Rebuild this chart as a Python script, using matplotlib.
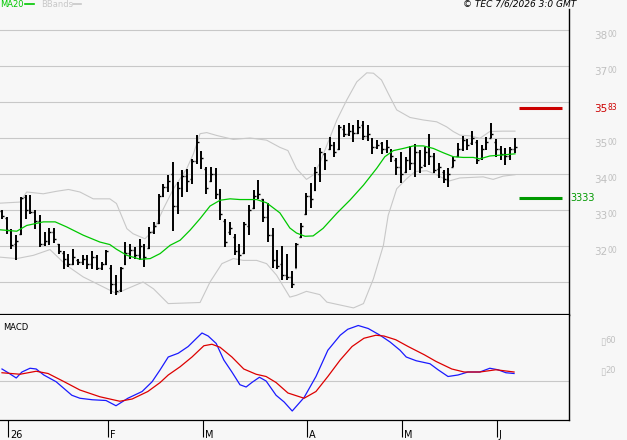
import matplotlib
matplotlib.use('Agg')
import matplotlib.pyplot as plt
from matplotlib.lines import Line2D
import numpy as np

# daily OHLC bars (Jan - early Jun 2026)
opens = [3296, 3278, 3240, 3205, 3232, 3336, 3300, 3295, 3270, 3205,
         3215, 3240, 3205, 3180, 3165, 3150, 3160, 3155, 3165, 3150,
         3170, 3140, 3150, 3140, 3095, 3078, 3150, 3180, 3190, 3175,
         3195, 3195, 3240, 3265, 3340, 3365, 3400, 3310, 3360, 3395,
         3385, 3435, 3460, 3415, 3380, 3400, 3350, 3270, 3240, 3225,
         3185, 3180, 3255, 3305, 3340, 3330, 3280, 3230, 3160, 3150,
         3120, 3115, 3140, 3225, 3290, 3340, 3355, 3400, 3455, 3470,
         3480, 3470, 3525, 3510, 3520, 3515, 3535, 3505, 3495, 3475,
         3485, 3470, 3465, 3440, 3420, 3405, 3440, 3430, 3460, 3425,
         3465, 3450, 3415, 3405, 3385, 3420, 3450, 3470, 3490, 3485,
         3490, 3445, 3475, 3500, 3490, 3470, 3455, 3450, 3470]
highs = [3299, 3281, 3248, 3230, 3336, 3343, 3343, 3299, 3285, 3239,
         3250, 3250, 3206, 3185, 3179, 3193, 3165, 3174, 3174, 3185,
         3174, 3156, 3190, 3146, 3119, 3142, 3211, 3206, 3197, 3220,
         3206, 3253, 3267, 3345, 3373, 3396, 3433, 3378, 3410, 3415,
         3443, 3509, 3463, 3419, 3419, 3417, 3359, 3276, 3267, 3234,
         3206, 3267, 3313, 3355, 3382, 3331, 3320, 3250, 3190, 3200,
         3178, 3130, 3209, 3263, 3346, 3374, 3420, 3471, 3457, 3502,
         3490, 3536, 3536, 3543, 3536, 3550, 3548, 3536, 3499, 3494,
         3490, 3494, 3469, 3444, 3462, 3448, 3478, 3483, 3467, 3474,
         3511, 3457, 3430, 3411, 3416, 3448, 3485, 3506, 3496, 3520,
         3494, 3481, 3502, 3543, 3496, 3478, 3471, 3476, 3499]
lows = [3274, 3234, 3193, 3160, 3230, 3276, 3290, 3248, 3197, 3200,
        3204, 3209, 3179, 3137, 3142, 3146, 3146, 3146, 3137, 3137,
        3132, 3132, 3146, 3068, 3063, 3072, 3146, 3165, 3165, 3160,
        3142, 3193, 3234, 3262, 3336, 3350, 3241, 3290, 3336, 3350,
        3373, 3429, 3415, 3345, 3378, 3331, 3271, 3197, 3230, 3174,
        3146, 3179, 3230, 3302, 3330, 3267, 3210, 3140, 3135, 3106,
        3106, 3082, 3138, 3221, 3286, 3305, 3354, 3379, 3411, 3468,
        3448, 3467, 3502, 3506, 3490, 3511, 3494, 3493, 3456, 3469,
        3456, 3457, 3434, 3397, 3374, 3402, 3411, 3393, 3402, 3419,
        3425, 3402, 3388, 3374, 3365, 3419, 3448, 3465, 3467, 3481,
        3428, 3439, 3467, 3499, 3448, 3439, 3425, 3439, 3457]
closes = [3283, 3245, 3204, 3215, 3334, 3300, 3294, 3270, 3205, 3215,
          3240, 3220, 3185, 3165, 3150, 3170, 3155, 3165, 3150, 3170,
          3140, 3150, 3185, 3095, 3075, 3138, 3180, 3190, 3175, 3200,
          3170, 3240, 3255, 3340, 3365, 3380, 3310, 3360, 3395, 3380,
          3435, 3490, 3445, 3360, 3400, 3345, 3290, 3210, 3250, 3185,
          3175, 3260, 3300, 3340, 3345, 3280, 3230, 3160, 3145, 3120,
          3115, 3095, 3205, 3255, 3340, 3330, 3405, 3460, 3440, 3480,
          3460, 3530, 3510, 3520, 3515, 3530, 3505, 3510, 3475, 3480,
          3470, 3475, 3450, 3420, 3400, 3440, 3430, 3460, 3420, 3460,
          3450, 3410, 3420, 3385, 3400, 3440, 3470, 3495, 3480, 3500,
          3440, 3470, 3490, 3510, 3470, 3455, 3450, 3470, 3475]

# MA20 (x in bar units)
ma_x = [-0.4, 3.1, 5.2, 8.7, 11.2, 13.6, 17.1, 20.6, 22.7, 24.1,
        26.3, 29.1, 31.2, 33.3, 35.4, 37.5, 39.6, 41.7, 43.8, 45.9,
        48.0, 50.1, 53.6, 55.7, 58.5, 60.6, 62.0, 63.8, 65.5, 67.6,
        70.5, 73.3, 76.1, 78.9, 80.6, 82.4, 84.5, 86.6, 88.7, 90.8,
        92.9, 95.0, 97.1, 99.2, 100.6, 102.7, 105.5, 108.0]
ma20 = [3245, 3241, 3257, 3267, 3267, 3253, 3230, 3211, 3204, 3191,
        3174, 3163, 3165, 3179, 3202, 3216, 3244, 3276, 3311, 3327,
        3331, 3329, 3329, 3320, 3292, 3250, 3236, 3227, 3228, 3249,
        3291, 3328, 3369, 3416, 3448, 3465, 3471, 3478, 3478, 3471,
        3459, 3448, 3446, 3446, 3442, 3450, 3453, 3456]

# Bollinger bands
bb_up_x = [-0.4, 3.8, 5.2, 8.7, 11.5, 14.0, 16.4, 19.2, 22.7, 24.1,
           26.3, 27.6, 30.1, 31.9, 34.0, 36.1, 38.9, 40.3, 41.7, 43.1,
           45.2, 48.7, 52.2, 55.7, 58.5, 60.2, 62.0, 64.1, 65.5, 66.9,
           68.7, 70.5, 72.6, 74.7, 76.8, 78.2, 79.9, 81.3, 83.1, 85.9,
           88.7, 91.5, 93.6, 95.0, 96.4, 98.5, 100.6, 102.7, 105.5, 108.0]
bb_up = [3319, 3322, 3350, 3345, 3352, 3357, 3350, 3331, 3331, 3318,
         3248, 3234, 3220, 3244, 3304, 3359, 3415, 3456, 3512, 3515,
         3507, 3496, 3500, 3494, 3474, 3465, 3415, 3385, 3397, 3430,
         3490, 3550, 3606, 3656, 3681, 3680, 3661, 3624, 3578, 3557,
         3550, 3545, 3531, 3518, 3508, 3506, 3499, 3518, 3519, 3519]
bb_lo_x = [-0.4, 3.1, 6.6, 10.1, 13.6, 17.1, 20.6, 24.1, 26.3, 29.7,
           31.9, 35.0, 41.7, 43.8, 46.3, 48.7, 50.8, 53.6, 55.7, 57.8,
           60.6, 62.0, 64.1, 66.9, 68.4, 74.0, 76.1, 78.2, 80.3, 81.3,
           83.1, 85.2, 87.0, 89.4, 91.5, 94.0, 96.4, 101.3, 103.4, 105.5, 108.0]
bb_lo = [3169, 3165, 3174, 3190, 3146, 3114, 3091, 3068, 3081, 3100,
         3081, 3040, 3043, 3100, 3151, 3165, 3160, 3160, 3151, 3119,
         3058, 3063, 3074, 3065, 3044, 3028, 3040, 3109, 3202, 3285,
         3359, 3387, 3407, 3409, 3398, 3380, 3389, 3392, 3385, 3394, 3398]

# MACD and signal
macd_x = [0.0, 1.3, 3.0, 4.2, 5.9, 7.2, 8.8, 11.4, 14.7, 16.4,
          19.0, 21.9, 24.0, 26.5, 29.5, 31.6, 33.3, 35.0, 37.1, 39.2,
          40.8, 42.1, 43.4, 45.1, 46.7, 48.4, 50.1, 51.4, 52.6, 54.2,
          55.6, 57.7, 59.4, 61.1, 63.6, 66.1, 68.6, 71.2, 72.8, 75.0,
          77.1, 79.6, 81.7, 83.8, 85.1, 87.2, 90.1, 91.8, 93.9, 96.0,
          98.1, 100.6, 102.7, 104.4, 106.1, 107.8]
macd = [0.16, 0.11, 0.04, 0.12, 0.17, 0.16, 0.08, -0.01, -0.19, -0.23,
        -0.25, -0.26, -0.33, -0.23, -0.14, -0.01, 0.15, 0.32, 0.37, 0.46,
        0.56, 0.64, 0.60, 0.50, 0.28, 0.12, -0.05, -0.08, -0.02, 0.05,
        0.00, -0.19, -0.28, -0.40, -0.22, 0.06, 0.41, 0.61, 0.69, 0.74,
        0.70, 0.61, 0.52, 0.41, 0.32, 0.27, 0.23, 0.15, 0.06, 0.08,
        0.12, 0.12, 0.17, 0.15, 0.11, 0.10]
sig_x = [0.0, 3.8, 7.2, 9.7, 13.1, 16.4, 20.6, 24.8, 27.4, 30.7,
         33.3, 35.0, 37.5, 40.0, 42.5, 44.2, 45.9, 48.4, 50.9, 53.5,
         55.6, 57.7, 60.2, 63.6, 66.1, 68.6, 71.2, 73.7, 76.2, 78.7,
         80.4, 82.9, 85.5, 88.9, 91.4, 94.7, 97.3, 100.6, 104.0, 107.8]
signal = [0.11, 0.09, 0.13, 0.10, -0.01, -0.12, -0.21, -0.27, -0.24, -0.14,
          -0.02, 0.08, 0.19, 0.32, 0.47, 0.49, 0.45, 0.32, 0.16, 0.09,
          0.06, -0.02, -0.16, -0.23, -0.14, 0.06, 0.28, 0.46, 0.57, 0.61,
          0.60, 0.55, 0.46, 0.35, 0.26, 0.16, 0.12, 0.12, 0.15, 0.12]

month_pos = [1.25, 22.3, 42.3, 64.2, 84.2, 104.2]
month_lbl = ['26', 'F', 'M', 'A', 'M', 'J']
grid_levels = [3100, 3200, 3300, 3400, 3500, 3600, 3700, 3800]
price_labels = [3800, 3700, 3500, 3400, 3300, 3200]   # 3600 sits under the red level label
macd_labels = [('\u25af', '60', 0.6), ('\u25af', '20', 0.2)]
resistance = 3583
support = 3333

BG = '#f7f7f7'
GRID = '#c8c8c8'
W, H = 627, 440

fig = plt.figure(figsize=(W / 100, H / 100), dpi=100, facecolor=BG)
ax = fig.add_axes([0, (H - 315) / H, 569 / W, 315 / H], facecolor=BG)
mx = fig.add_axes([0, (H - 420) / H, 569 / W, 105 / H], facecolor=BG)

xmin, xmax = -0.42, 119.37
for a in (ax, mx):
    a.set_xlim(xmin, xmax)
    a.spines['top'].set_visible(False)
    a.spines['left'].set_visible(False)
    a.spines['right'].set_color('black')
    a.spines['right'].set_linewidth(1.0)
    a.spines['bottom'].set_color('black')
    a.set_yticks([])

ax.set_ylim(3008.3, 3883.3)
ax.spines['right'].set_bounds(3008.3, 3858)
ax.spines['bottom'].set_linewidth(1.6)
ax.set_xticks([])

mx.set_ylim(-0.52, 0.88)
mx.spines['bottom'].set_linewidth(0.9)
mx.set_xticks(month_pos)
mx.set_xticklabels([])
mx.tick_params(axis='x', length=12.2, width=0.8, color='black', direction='out')

# grid
for lvl in grid_levels:
    ax.axhline(lvl, color=GRID, lw=0.8, zorder=0)
mx.axhline(0, color=GRID, lw=0.8, zorder=0)

# bands + MA
ax.plot(bb_up_x, bb_up, color='#c8c8c8', lw=0.8, zorder=1)
ax.plot(bb_lo_x, bb_lo, color='#c8c8c8', lw=0.8, zorder=1)
ax.plot(ma_x, ma20, color='#00c800', lw=0.9, zorder=3)

# OHLC bars
x = np.arange(len(highs))
ax.vlines(x, lows, highs, color='black', lw=1.4, zorder=2)
ax.hlines(opens, x - 0.38, x, color='black', lw=1.0, zorder=2)
ax.hlines(closes, x, x + 0.38, color='black', lw=1.0, zorder=2)

# support / resistance
ax.hlines(resistance, 108.8, 117.9, color='#cc0000', lw=2.2, zorder=3)
ax.hlines(support, 108.8, 117.9, color='#009900', lw=2.2, zorder=3)

# right-hand price labels
ppx = 1 / 0.36
tr = ax.get_yaxis_transform()
for v in price_labels:
    s = str(v)
    ax.text(594 / 569, v - 9 * ppx, s[:2], transform=tr, fontsize=7.5,
            color='#c0c0c0', va='baseline', ha='left', clip_on=False)
    ax.text(607 / 569, v - 7 * ppx, s[2:], transform=tr, fontsize=5.5,
            color='#c0c0c0', va='baseline', ha='left', clip_on=False)

s = str(resistance)
ax.text(594 / 569, resistance + 13 - 9 * ppx, s[:2], transform=tr, fontsize=7.5,
        color='#cc0000', va='baseline', ha='left', clip_on=False)
ax.text(607 / 569, resistance + 13 - 7 * ppx, s[2:], transform=tr, fontsize=5.5,
        color='#cc0000', va='baseline', ha='left', clip_on=False)
ax.text(570.5 / 569, support - 1, str(support), transform=tr, fontsize=7,
        color='#009900', va='center', ha='left', clip_on=False)

# MACD lines
mx.plot(macd_x, macd, color='#1a1aff', lw=0.9)
mx.plot(sig_x, signal, color='#dd0000', lw=0.9)

mtr = mx.get_yaxis_transform()
for big, small, v in macd_labels:
    mx.text(600 / 569, v - 9 / 75, big, transform=mtr, fontsize=7,
            color='#c0c0c0', va='baseline', ha='left', clip_on=False)
    mx.text(605.5 / 569, v - 7 / 75, small, transform=mtr, fontsize=6,
            color='#c0c0c0', va='baseline', ha='left', clip_on=False)

mx.text(3 / 569, (420 - 327) / 105, 'MACD', transform=mx.transAxes,
        fontsize=6, color='black', va='center', ha='left')

for p, lbl in zip(month_pos, month_lbl):
    mx.text(p + 0.4, -0.171, lbl, transform=mx.get_xaxis_transform(),
            fontsize=7, color='black', va='baseline', ha='left', clip_on=False)

# header
ytop = 1 - 4.5 / H
fig.text(0, ytop, 'MA20', color='#00c800', fontsize=6, va='center', ha='left')
fig.add_artist(Line2D([25 / W, 34 / W], [ytop, ytop], color='#00c800', lw=1.2))
fig.text(41 / W, ytop, 'BBands', color='#c8c8c8', fontsize=6, va='center', ha='left')
fig.add_artist(Line2D([73 / W, 81 / W], [ytop, ytop], color='#c8c8c8', lw=1.2))
fig.text(576 / W, 1 - 4 / H, '\u00a9 TEC 7/6/2026 3:0 GMT', fontsize=6.5,
         style='italic', color='black', va='center', ha='right')

fig.savefig('out.png', dpi=100, facecolor=BG)
